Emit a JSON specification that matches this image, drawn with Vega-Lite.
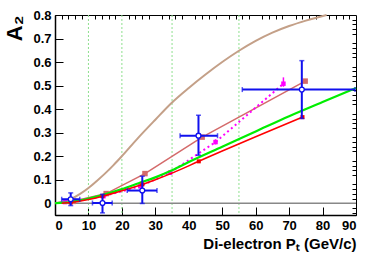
{
  "$schema": "https://vega.github.io/schema/vega-lite/v6.json",
  "width": 301,
  "height": 200,
  "autosize": {"type": "none"},
  "padding": {"left": 55, "top": 15, "right": 18, "bottom": 38},
  "background": "white",
  "config": {
    "view": {"stroke": "black", "strokeWidth": 1},
    "axis": {"labelFont": "Liberation Sans", "labelFontWeight": "bold", "labelFontSize": 13, "labelColor": "black", "titleFont": "Liberation Sans", "titleFontWeight": "bold", "titleColor": "black", "domainColor": "black", "tickColor": "black", "grid": false}
  },
  "datasets": {
    "grid": [{"x": 10}, {"x": 20}, {"x": 35}, {"x": 55}],
    "zero": [{"x": 0, "y": 0}, {"x": 90, "y": 0}],
    "tan": [
      {"x": 0, "y": 0}, {"x": 2.5, "y": 0.008}, {"x": 5, "y": 0.02}, {"x": 7.5, "y": 0.04}, {"x": 10, "y": 0.065},
      {"x": 12.5, "y": 0.095}, {"x": 15, "y": 0.127}, {"x": 17.5, "y": 0.162}, {"x": 20, "y": 0.2}, {"x": 25, "y": 0.28},
      {"x": 30, "y": 0.355}, {"x": 35, "y": 0.428}, {"x": 40, "y": 0.49}, {"x": 45, "y": 0.547}, {"x": 50, "y": 0.6},
      {"x": 55, "y": 0.648}, {"x": 60, "y": 0.69}, {"x": 65, "y": 0.725}, {"x": 70, "y": 0.753}, {"x": 75, "y": 0.776}, {"x": 81.2, "y": 0.8}
    ],
    "salmon": [
      {"x": 5.5, "y": 0.008}, {"x": 15.3, "y": 0.041}, {"x": 26.9, "y": 0.126}, {"x": 44.0, "y": 0.281}, {"x": 74.8, "y": 0.519}
    ],
    "magenta": [
      {"x": 3, "y": 0.005, "ylo": 0.0, "yhi": 0.01},
      {"x": 14.5, "y": 0.03, "ylo": 0.025, "yhi": 0.035},
      {"x": 25.5, "y": 0.072, "ylo": 0.066, "yhi": 0.078},
      {"x": 34.4, "y": 0.13, "ylo": 0.123, "yhi": 0.137},
      {"x": 48, "y": 0.26, "ylo": 0.25, "yhi": 0.272},
      {"x": 68.3, "y": 0.508, "ylo": 0.495, "yhi": 0.535}
    ],
    "green": [
      {"x": 0, "y": 0}, {"x": 5, "y": 0.006}, {"x": 10, "y": 0.02}, {"x": 15, "y": 0.038}, {"x": 20, "y": 0.06},
      {"x": 25, "y": 0.085}, {"x": 30, "y": 0.11}, {"x": 35, "y": 0.14}, {"x": 40, "y": 0.175}, {"x": 50, "y": 0.24},
      {"x": 60, "y": 0.305}, {"x": 70, "y": 0.37}, {"x": 80, "y": 0.43}, {"x": 90, "y": 0.49}
    ],
    "red": [
      {"x": 2, "y": 0}, {"x": 4.7, "y": 0.003}, {"x": 10, "y": 0.016}, {"x": 14.2, "y": 0.03}, {"x": 20, "y": 0.053},
      {"x": 26.1, "y": 0.08}, {"x": 30, "y": 0.1}, {"x": 35, "y": 0.128}, {"x": 43, "y": 0.178}, {"x": 50, "y": 0.222},
      {"x": 60, "y": 0.283}, {"x": 74, "y": 0.366}
    ],
    "redpts": [
      {"x": 4.7, "y": 0.003}, {"x": 14.2, "y": 0.03}, {"x": 26.1, "y": 0.08}, {"x": 43, "y": 0.178}, {"x": 74, "y": 0.366}
    ],
    "blue": [
      {"x": 4.7, "y": 0.017, "xlo": 2.0, "xhi": 7.4, "ylo": -0.01, "yhi": 0.044},
      {"x": 14.2, "y": 0.001, "xlo": 11.2, "xhi": 17.1, "ylo": -0.041, "yhi": 0.038},
      {"x": 26.1, "y": 0.054, "xlo": 21.6, "xhi": 30.5, "ylo": -0.001, "yhi": 0.115},
      {"x": 42.9, "y": 0.287, "xlo": 37.4, "xhi": 48.6, "ylo": 0.204, "yhi": 0.374},
      {"x": 73.8, "y": 0.483, "xlo": 56.0, "xhi": 89.7, "ylo": 0.36, "yhi": 0.606}
    ]
  },
  "resolve": {"axis": {"x": "independent", "y": "independent"}},
  "layer": [
    {
      "data": {"name": "grid"},
      "mark": {"type": "rule", "color": "#8ee08e", "strokeDash": [2, 2], "strokeWidth": 1},
      "encoding": {"x": {"field": "x", "type": "quantitative", "scale": {"domain": [0, 90], "nice": false}, "axis": null}}
    },
    {
      "data": {"name": "zero"},
      "mark": {"type": "line", "color": "#888888", "strokeWidth": 1.5},
      "encoding": {
        "x": {"field": "x", "type": "quantitative", "scale": {"domain": [0, 90], "nice": false},
          "axis": {"values": [0, 10, 20, 30, 40, 50, 60, 70, 80, 90], "title": "Di-electron Pₜ (GeV/c)", "titleAnchor": "end", "titleFontSize": 15, "titlePadding": 4, "tickSize": -8, "labelPadding": 12, "domainWidth": 1.5}},
        "y": {"field": "y", "type": "quantitative", "scale": {"domain": [-0.05, 0.8], "nice": false, "zero": false},
          "axis": {"values": [0, 0.1, 0.2, 0.3, 0.4, 0.5, 0.6, 0.7, 0.8], "format": ".1~f", "title": "A₂", "titleAnchor": "end", "titleFontSize": 22, "titlePadding": 6, "tickSize": -8, "labelPadding": 12, "domainWidth": 1.5}}
      }
    },
    {
      "data": {"name": "tan"},
      "mark": {"type": "line", "color": "#c4a088", "strokeWidth": 2, "interpolate": "monotone"},
      "encoding": {
        "x": {"field": "x", "type": "quantitative", "scale": {"domain": [0, 90], "nice": false},
          "axis": {"values": [2, 4, 6, 8, 12, 14, 16, 18, 22, 24, 26, 28, 32, 34, 36, 38, 42, 44, 46, 48, 52, 54, 56, 58, 62, 64, 66, 68, 72, 74, 76, 78, 82, 84, 86, 88], "labels": false, "domain": false, "title": null, "tickSize": -4}},
        "y": {"field": "y", "type": "quantitative", "scale": {"domain": [-0.05, 0.8], "nice": false, "zero": false},
          "axis": {"values": [-0.04, -0.02, 0.02, 0.04, 0.06, 0.08, 0.12, 0.14, 0.16, 0.18, 0.22, 0.24, 0.26, 0.28, 0.32, 0.34, 0.36, 0.38, 0.42, 0.44, 0.46, 0.48, 0.52, 0.54, 0.56, 0.58, 0.62, 0.64, 0.66, 0.68, 0.72, 0.74, 0.76, 0.78], "labels": false, "domain": false, "title": null, "tickSize": -4}}
      }
    },
    {
      "data": {"name": "salmon"},
      "mark": {"type": "line", "color": "#d46a6a", "strokeWidth": 1.5},
      "encoding": {
        "x": {"field": "x", "type": "quantitative", "scale": {"domain": [0, 90], "nice": false}, "axis": null},
        "y": {"field": "y", "type": "quantitative", "scale": {"domain": [-0.05, 0.8], "nice": false, "zero": false}, "axis": null}
      }
    },
    {
      "data": {"name": "salmon"},
      "mark": {"type": "square", "color": "#d46a6a", "size": 30, "opacity": 1},
      "encoding": {
        "x": {"field": "x", "type": "quantitative", "scale": {"domain": [0, 90], "nice": false}, "axis": null},
        "y": {"field": "y", "type": "quantitative", "scale": {"domain": [-0.05, 0.8], "nice": false, "zero": false}, "axis": null}
      }
    },
    {
      "data": {"name": "magenta"},
      "mark": {"type": "line", "color": "#ff00ff", "strokeWidth": 2, "strokeDash": [2, 3]},
      "encoding": {
        "x": {"field": "x", "type": "quantitative", "scale": {"domain": [0, 90], "nice": false}, "axis": null},
        "y": {"field": "y", "type": "quantitative", "scale": {"domain": [-0.05, 0.8], "nice": false, "zero": false}, "axis": null}
      }
    },
    {
      "data": {"name": "magenta"},
      "mark": {"type": "rule", "color": "#ff00ff", "strokeWidth": 1.5},
      "encoding": {
        "x": {"field": "x", "type": "quantitative", "scale": {"domain": [0, 90], "nice": false}, "axis": null},
        "y": {"field": "ylo", "type": "quantitative", "scale": {"domain": [-0.05, 0.8], "nice": false, "zero": false}, "axis": null},
        "y2": {"field": "yhi"}
      }
    },
    {
      "data": {"name": "magenta"},
      "mark": {"type": "square", "color": "#ff00ff", "size": 20, "opacity": 1},
      "encoding": {
        "x": {"field": "x", "type": "quantitative", "scale": {"domain": [0, 90], "nice": false}, "axis": null},
        "y": {"field": "y", "type": "quantitative", "scale": {"domain": [-0.05, 0.8], "nice": false, "zero": false}, "axis": null}
      }
    },
    {
      "data": {"name": "green"},
      "mark": {"type": "line", "color": "#00ee00", "strokeWidth": 2.2, "interpolate": "monotone"},
      "encoding": {
        "x": {"field": "x", "type": "quantitative", "scale": {"domain": [0, 90], "nice": false}, "axis": null},
        "y": {"field": "y", "type": "quantitative", "scale": {"domain": [-0.05, 0.8], "nice": false, "zero": false}, "axis": null}
      }
    },
    {
      "data": {"name": "red"},
      "mark": {"type": "line", "color": "#ff0000", "strokeWidth": 1.6, "interpolate": "monotone"},
      "encoding": {
        "x": {"field": "x", "type": "quantitative", "scale": {"domain": [0, 90], "nice": false}, "axis": null},
        "y": {"field": "y", "type": "quantitative", "scale": {"domain": [-0.05, 0.8], "nice": false, "zero": false}, "axis": null}
      }
    },
    {
      "data": {"name": "redpts"},
      "mark": {"type": "square", "color": "#ee0000", "size": 16, "opacity": 1},
      "encoding": {
        "x": {"field": "x", "type": "quantitative", "scale": {"domain": [0, 90], "nice": false}, "axis": null},
        "y": {"field": "y", "type": "quantitative", "scale": {"domain": [-0.05, 0.8], "nice": false, "zero": false}, "axis": null}
      }
    },
    {
      "data": {"name": "blue"},
      "mark": {"type": "rule", "color": "#1010ee", "strokeWidth": 2},
      "encoding": {
        "x": {"field": "xlo", "type": "quantitative", "scale": {"domain": [0, 90], "nice": false}, "axis": null},
        "x2": {"field": "xhi"},
        "y": {"field": "y", "type": "quantitative", "scale": {"domain": [-0.05, 0.8], "nice": false, "zero": false}, "axis": null}
      }
    },
    {
      "data": {"name": "blue"},
      "mark": {"type": "rule", "color": "#1010ee", "strokeWidth": 2},
      "encoding": {
        "x": {"field": "x", "type": "quantitative", "scale": {"domain": [0, 90], "nice": false}, "axis": null},
        "y": {"field": "ylo", "type": "quantitative", "scale": {"domain": [-0.05, 0.8], "nice": false, "zero": false}, "axis": null},
        "y2": {"field": "yhi"}
      }
    },
    {
      "data": {"name": "blue"},
      "mark": {"type": "tick", "orient": "horizontal", "color": "#1010ee", "size": 5, "thickness": 1.5},
      "encoding": {
        "x": {"field": "x", "type": "quantitative", "scale": {"domain": [0, 90], "nice": false}, "axis": null},
        "y": {"field": "ylo", "type": "quantitative", "scale": {"domain": [-0.05, 0.8], "nice": false, "zero": false}, "axis": null}
      }
    },
    {
      "data": {"name": "blue"},
      "mark": {"type": "tick", "orient": "horizontal", "color": "#1010ee", "size": 5, "thickness": 1.5},
      "encoding": {
        "x": {"field": "x", "type": "quantitative", "scale": {"domain": [0, 90], "nice": false}, "axis": null},
        "y": {"field": "yhi", "type": "quantitative", "scale": {"domain": [-0.05, 0.8], "nice": false, "zero": false}, "axis": null}
      }
    },
    {
      "data": {"name": "blue"},
      "mark": {"type": "tick", "orient": "vertical", "color": "#1010ee", "size": 5, "thickness": 1.5},
      "encoding": {
        "x": {"field": "xlo", "type": "quantitative", "scale": {"domain": [0, 90], "nice": false}, "axis": null},
        "y": {"field": "y", "type": "quantitative", "scale": {"domain": [-0.05, 0.8], "nice": false, "zero": false}, "axis": null}
      }
    },
    {
      "data": {"name": "blue"},
      "mark": {"type": "tick", "orient": "vertical", "color": "#1010ee", "size": 5, "thickness": 1.5},
      "encoding": {
        "x": {"field": "xhi", "type": "quantitative", "scale": {"domain": [0, 90], "nice": false}, "axis": null},
        "y": {"field": "y", "type": "quantitative", "scale": {"domain": [-0.05, 0.8], "nice": false, "zero": false}, "axis": null}
      }
    },
    {
      "data": {"name": "blue"},
      "mark": {"type": "point", "shape": "circle", "color": "#1010ee", "fill": "white", "filled": true, "stroke": "#1010ee", "strokeWidth": 1.3, "size": 24, "opacity": 1},
      "encoding": {
        "x": {"field": "x", "type": "quantitative", "scale": {"domain": [0, 90], "nice": false}, "axis": null},
        "y": {"field": "y", "type": "quantitative", "scale": {"domain": [-0.05, 0.8], "nice": false, "zero": false}, "axis": null}
      }
    }
  ]
}
